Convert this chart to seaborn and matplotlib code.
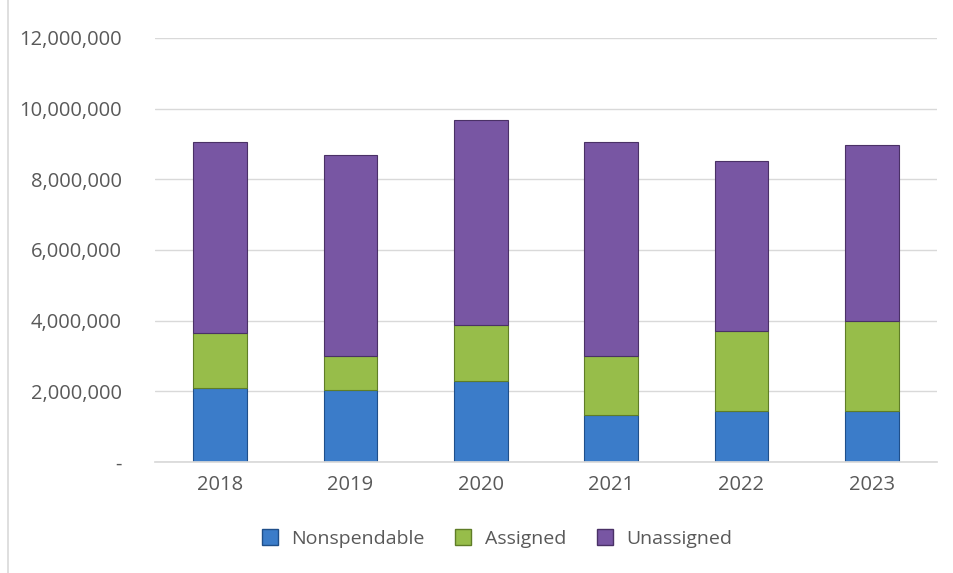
import matplotlib
matplotlib.use("Agg")
import matplotlib.pyplot as plt
import matplotlib.ticker as mticker
from matplotlib.lines import Line2D
import seaborn as sns
import pandas as pd
import numpy as np

# data
years = ['2018', '2019', '2020', '2021', '2022', '2023']
nonspendable = [2100000, 2030000, 2280000, 1340000, 1440000, 1440000]
assigned = [1560000, 970000, 1590000, 1660000, 2270000, 2550000]
unassigned = [5410000, 5700000, 5800000, 6070000, 4810000, 4980000]

series = ['Nonspendable', 'Assigned', 'Unassigned']
colors = {'Nonspendable': '#3b7cc9', 'Assigned': '#97bd4a', 'Unassigned': '#7856a3'}
edges = {'Nonspendable': '#1f4f8a', 'Assigned': '#5f7d27', 'Unassigned': '#4a3166'}

df = pd.DataFrame({'year': years, 'Nonspendable': nonspendable,
                   'Assigned': assigned, 'Unassigned': unassigned})

sns.set_theme(style='white')
plt.rcParams['font.family'] = ['Open Sans', 'DejaVu Sans']

fig = plt.figure(figsize=(9.54, 5.73), dpi=100)
ax = fig.add_axes([155 / 954, 1 - 462 / 573, 782 / 954, 424 / 573])

bottom = np.zeros(len(years))
for s in series:
    sns.barplot(data=df, x='year', y=s, ax=ax, color=colors[s], bottom=bottom,
                width=0.41, edgecolor=edges[s], linewidth=0.8, saturation=1)
    bottom = bottom + df[s].values

ax.set_ylim(0, 12000000)
ax.set_xlim(-0.5, 5.5)
ax.yaxis.set_major_locator(mticker.MultipleLocator(2000000))
ax.yaxis.set_major_formatter(mticker.FuncFormatter(
    lambda v, p: '-' if v == 0 else f'{int(v):,}'))
ax.grid(axis='y', color='#d9d9d9', linewidth=1)
ax.set_axisbelow(True)
for sp in ['top', 'right', 'left']:
    ax.spines[sp].set_visible(False)
ax.spines['bottom'].set_color('#d9d9d9')
ax.tick_params(axis='y', length=0, pad=24, labelsize=14.5, labelcolor='#595959')
ax.tick_params(axis='x', length=0, pad=9, labelsize=14.5, labelcolor='#595959')
ax.set_xlabel('')
ax.set_ylabel('')

handles = [Line2D([0], [0], marker='s', linestyle='', markersize=11,
                  markerfacecolor=colors[s], markeredgecolor=edges[s], label=s)
           for s in series]
fig.legend(handles=handles, loc='center', bbox_to_anchor=(0.515, 1 - 539 / 573),
           ncol=3, frameon=False, fontsize=14, labelcolor='#595959',
           handletextpad=0.1, columnspacing=1.0)

# chart area border on the left
fig.add_artist(Line2D([8 / 954, 8 / 954], [0, 1], transform=fig.transFigure,
                      color='#d9d9d9', linewidth=1.2))

fig.savefig('out.png', dpi=100)
